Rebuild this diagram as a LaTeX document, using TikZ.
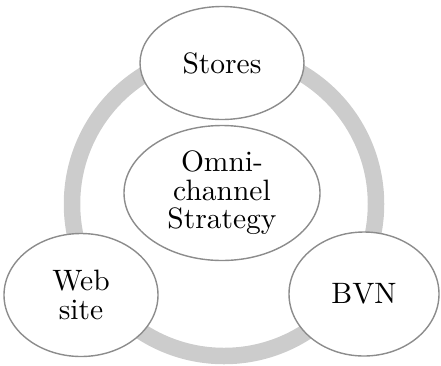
\documentclass[tikz,border=0pt]{standalone}
\usepackage{fontspec}
\setmainfont{lmroman10-regular}[Extension=.otf]
\usetikzlibrary{shapes.geometric}
\begin{document}
\begin{tikzpicture}[x=1pt,y=-1pt,
  bubble/.style={ellipse, draw=black!45, line width=1.4pt, fill=white, inner sep=0pt, align=center,
    font=\fontsize{29.5}{28.5}\selectfont},
]
\useasboundingbox (0,0) rectangle (441,365);
\draw[line width=16.5pt, black!20] (224,204) circle (152);
\node[bubble, minimum width=164pt, minimum height=113pt] (stores) at (222,63) {Stores};
\node[bubble, minimum width=196pt, minimum height=135pt] (omni) at (222,193) {Omni-\\channel\\Strategy};
\node[bubble, minimum width=154pt, minimum height=123pt] (web) at (81,295) {Web\\site};
\node[bubble, minimum width=150pt, minimum height=124pt] (bvn) at (364,294) {BVN};
\end{tikzpicture}
\end{document}
